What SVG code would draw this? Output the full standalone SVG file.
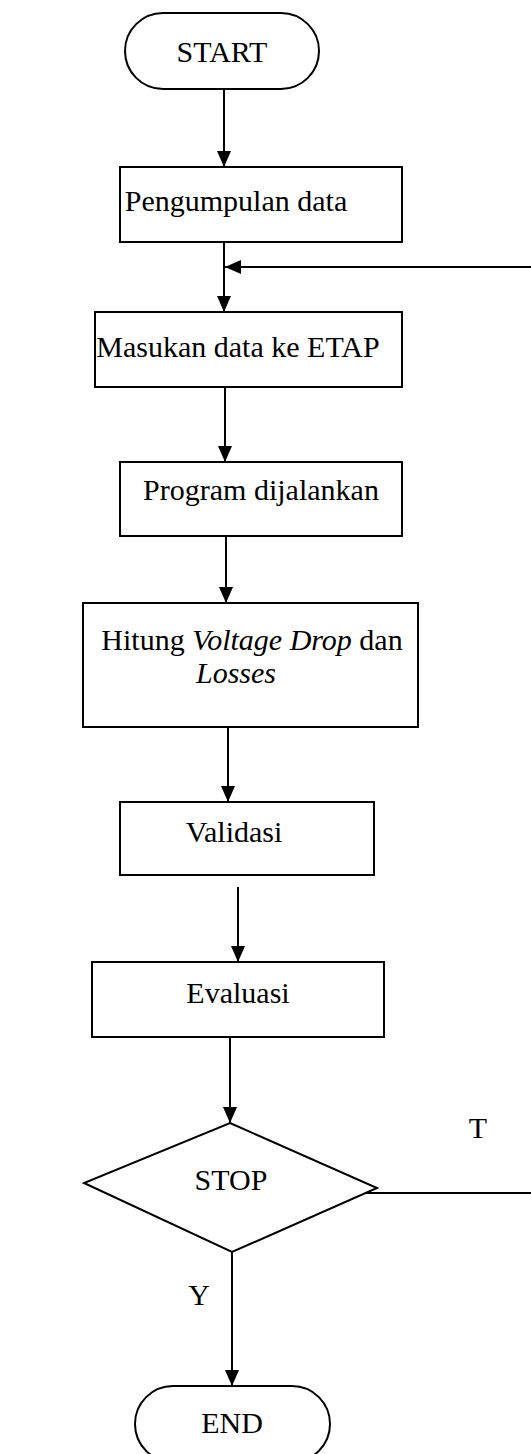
<svg xmlns="http://www.w3.org/2000/svg" width="531" height="1454" viewBox="0 0 531 1454">
  <style>
    .box { fill: #fff; stroke: #000; stroke-width: 2; }
    .lbl { font-family: "Liberation Serif", "Times New Roman", serif; font-size: 30px; fill: #000; text-anchor: middle; }
    .it { font-style: italic; }
    .wire { fill: none; stroke: #000; stroke-width: 2; }
  </style>
  <defs>
    <marker id="arrow" markerUnits="userSpaceOnUse" markerWidth="16" markerHeight="14" refX="16" refY="7" orient="auto">
      <path d="M0,0 L16,7 L0,14 z" fill="#000"/>
    </marker>
  </defs>

  <rect width="531" height="1454" fill="#fff"/>

  <g id="connectors">
    <line class="wire" x1="224" y1="89" x2="224" y2="167" marker-end="url(#arrow)"/>
    <line class="wire" x1="224" y1="242" x2="224" y2="312" marker-end="url(#arrow)"/>
    <line class="wire" x1="531" y1="267" x2="225" y2="267" marker-end="url(#arrow)"/>
    <line class="wire" x1="225" y1="387" x2="225" y2="462" marker-end="url(#arrow)"/>
    <line class="wire" x1="226" y1="536" x2="226" y2="603" marker-end="url(#arrow)"/>
    <line class="wire" x1="228" y1="727" x2="228" y2="802" marker-end="url(#arrow)"/>
    <line class="wire" x1="238" y1="887" x2="238" y2="962" marker-end="url(#arrow)"/>
    <line class="wire" x1="230" y1="1025" x2="230" y2="1123" marker-end="url(#arrow)"/>
    <line class="wire" x1="362" y1="1193" x2="531" y2="1193"/>
    <line class="wire" x1="232" y1="1242" x2="232" y2="1386" marker-end="url(#arrow)"/>
  </g>

  <g id="start">
    <rect class="box" x="125" y="13" width="194" height="76" rx="38"/>
    <text class="lbl" x="222" y="62">START</text>
  </g>

  <g id="pengumpulan">
    <rect class="box" x="120" y="167" width="282" height="75"/>
    <text class="lbl" x="236" y="211">Pengumpulan data</text>
  </g>

  <g id="masukan">
    <rect class="box" x="95" y="312" width="307" height="75"/>
    <text class="lbl" x="238" y="357">Masukan data ke ETAP</text>
  </g>

  <g id="program">
    <rect class="box" x="120" y="462" width="282" height="74"/>
    <text class="lbl" x="261" y="500">Program dijalankan</text>
  </g>

  <g id="hitung">
    <rect class="box" x="83" y="603" width="335" height="124"/>
    <text class="lbl" x="252" y="650">Hitung <tspan class="it">Voltage Drop</tspan> dan</text>
    <text class="lbl it" x="236" y="683">Losses</text>
  </g>

  <g id="validasi">
    <rect class="box" x="120" y="802" width="254" height="73"/>
    <text class="lbl" x="234" y="842">Validasi</text>
  </g>

  <g id="evaluasi">
    <rect class="box" x="92" y="962" width="292" height="75"/>
    <text class="lbl" x="238" y="1003">Evaluasi</text>
  </g>

  <g id="stop">
    <polygon class="box" points="230,1123 377,1188 232,1252 84,1183"/>
    <text class="lbl" x="231" y="1190">STOP</text>
  </g>

  <g id="label-t">
    <text class="lbl" x="478" y="1138">T</text>
  </g>

  <g id="label-y">
    <text class="lbl" x="199" y="1305">Y</text>
  </g>

  <g id="end">
    <rect class="box" x="135" y="1386" width="195" height="76" rx="38"/>
    <text class="lbl" x="232" y="1433">END</text>
  </g>
</svg>
